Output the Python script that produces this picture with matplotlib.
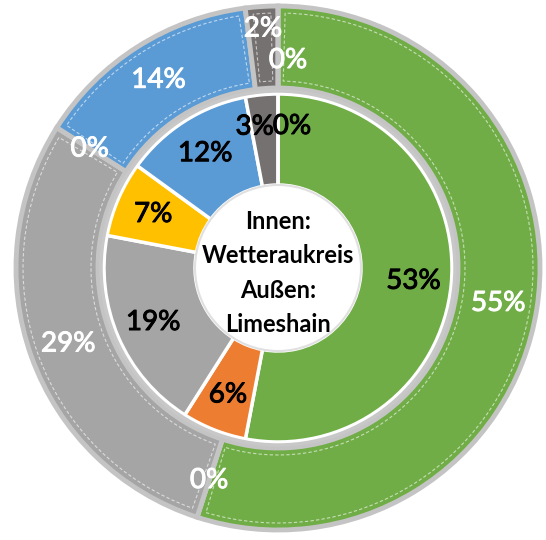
import numpy as np
import matplotlib
matplotlib.use("Agg")
import matplotlib.pyplot as plt
import matplotlib.patheffects as pe
from matplotlib.patches import Circle, Wedge

# categories (same order in both rings, clockwise from 12 o'clock)
colors = ["#70AD47", "#ED7D31", "#A5A5A5", "#FFC000", "#5B9BD5", "#767171", "#FFFFFF"]
inner_vals = [53, 6, 19, 7, 12, 3, 0]    # Wetteraukreis
outer_vals = [55, 0, 29, 0, 14, 2, 0]    # Limeshain
center_text = "Innen:\nWetteraukreis\nAußen:\nLimeshain"

# label nudges (radius, tangential px) where Excel moved overlapping labels
outer_nudge = {5: (240, 0), 6: (208, 10)}
inner_nudge = {5: (142, -10), 6: (142, 14)}

plt.rcParams["font.family"] = ["Lato", "DejaVu Sans"]

fig = plt.figure(figsize=(5.46, 5.40), dpi=100)
ax = fig.add_axes([0, 0, 1, 1])

R_out, W_out = 262, 82
R_in, W_in = 174, 91

ow, _ = ax.pie(outer_vals, colors=colors, radius=R_out, startangle=90, counterclock=False,
               wedgeprops=dict(width=W_out, edgecolor="#C4C4C4", linewidth=3.5))
iw, _ = ax.pie(inner_vals, colors=colors, radius=R_in, startangle=90, counterclock=False,
               wedgeprops=dict(width=W_in, edgecolor="white", linewidth=2.5))

# faint bevel line inside each outer wedge
for w, v in zip(ow, outer_vals):
    if v == 0:
        continue
    th1, th2 = w.theta1, w.theta2
    ax.add_patch(Wedge((0, 0), R_out - 7, th1 + 1.6, th2 - 1.6, width=W_out - 14,
                       fill=False, ec="white", lw=0.8, ls=(0, (3, 2)), alpha=0.6))

ax.add_patch(Circle((0, 0), R_in + 3, fill=False, ec="#C8C8C8", lw=2.5))
ax.add_patch(Circle((0, 0), R_in - W_in, fc="white", ec="#E0E0E0", lw=1.5))


def place(vals, r_def, nudge, color):
    tot = sum(vals)
    cum = 0
    for i, v in enumerate(vals):
        mid = (cum + v / 2) / tot * 360
        cum += v
        r, t = nudge.get(i, (r_def, 0))
        a = np.deg2rad(90 - mid)
        x = r * np.cos(a) + t
        y = r * np.sin(a)
        ax.text(x, y, f"{v}%", ha="center", va="center", fontsize=20, color=color,
                path_effects=[pe.withStroke(linewidth=0.7, foreground=color)])


place(outer_vals, 223, outer_nudge, "white")
place(inner_vals, 136, inner_nudge, "black")

ax.text(0, -5, center_text, ha="center", va="center", fontsize=17,
        fontweight="bold", linespacing=1.6)

ax.set_xlim(-278, 268)
ax.set_ylim(-272, 268)
ax.set_aspect("equal")
ax.axis("off")

fig.savefig("out.png", dpi=100)
